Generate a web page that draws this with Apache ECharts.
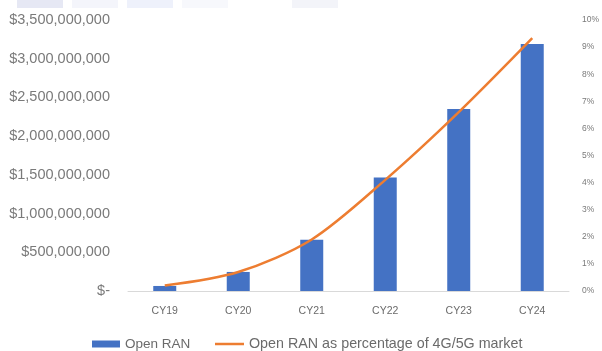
<!DOCTYPE html>
<html lang="en">
<head>
    <meta charset="UTF-8">
    <title>Open RAN</title>
    <script src="https://cdn.jsdelivr.net/npm/echarts@6/dist/echarts.min.js"></script>
    <style>
        html, body { margin: 0; padding: 0; background: #fff; }
        #chart { width: 602px; height: 351px; }
    </style>
</head>
<body>
<div id="chart"></div>
<script type="text/javascript">
    // data
    var years = ['CY19', 'CY20', 'CY21', 'CY22', 'CY23', 'CY24'];
    var openRan = [65000000, 246000000, 661000000, 1465000000, 2350000000, 3190000000];
    var sharePct = [0.2, 0.7, 1.9, 4.1, 6.6, 9.33];

    var barName = 'Open RAN';
    var lineName = 'Open RAN as percentage of 4G/5G market';

    function money(v) {
        if (v === 0) return '$-';
        return '$' + v.toString().replace(/\B(?=(\d{3})+(?!\d))/g, ',');
    }

    // faint strips left over at the top edge of the screenshot
    var strips = [[17, '#e6e8f4'], [72, '#f4f5fb'], [127, '#eef1fb'], [182, '#f7f8fc'], [292, '#f3f4f9']];

    var myChart = echarts.init(document.getElementById('chart'));
    myChart.setOption({
        animation: false,
        textStyle: { fontFamily: 'Liberation Sans' },
        grid: { left: 128, right: 32, top: 20, bottom: 60 },
        graphic: strips.map(function (s) {
            return { type: 'rect', shape: { x: s[0], y: 0, width: 46, height: 8 }, style: { fill: s[1] }, z: -1 };
        }),
        legend: [
            {
                left: 92,
                top: 337,
                padding: 0,
                itemWidth: 28,
                itemHeight: 7,
                textStyle: { color: '#6b6b6b', fontSize: 13.5 },
                data: [{ name: barName, icon: 'rect' }]
            },
            {
                left: 215,
                top: 337,
                padding: 0,
                itemWidth: 29,
                itemHeight: 2.5,
                textStyle: { color: '#6b6b6b', fontSize: 14.3 },
                data: [{ name: lineName, icon: 'rect', itemStyle: { color: '#ed7d31' } }]
            }
        ],
        xAxis: {
            type: 'category',
            data: years,
            axisLine: { lineStyle: { color: '#d9d9d9' } },
            axisTick: { show: false },
            axisLabel: { color: '#6b6b6b', fontSize: 10.5, margin: 15 }
        },
        yAxis: [
            {
                type: 'value',
                min: 0,
                max: 3500000000,
                interval: 500000000,
                splitLine: { show: false },
                axisLine: { show: false },
                axisLabel: { color: '#7a7a7a', fontSize: 14.5, margin: 18, formatter: money }
            },
            {
                type: 'value',
                min: 0,
                max: 10,
                interval: 1,
                splitLine: { show: false },
                axisLine: { show: false },
                axisLabel: { color: '#7a7a7a', fontSize: 8.5, margin: 13, formatter: '{value}%' }
            }
        ],
        series: [
            {
                name: barName,
                type: 'bar',
                barWidth: 23,
                itemStyle: { color: '#4472c4' },
                data: openRan
            },
            {
                name: lineName,
                type: 'line',
                yAxisIndex: 1,
                smooth: 0.3,
                symbol: 'none',
                lineStyle: { color: '#ed7d31', width: 2.5 },
                itemStyle: { color: '#ed7d31' },
                data: sharePct
            }
        ]
    });
</script>
</body>
</html>
